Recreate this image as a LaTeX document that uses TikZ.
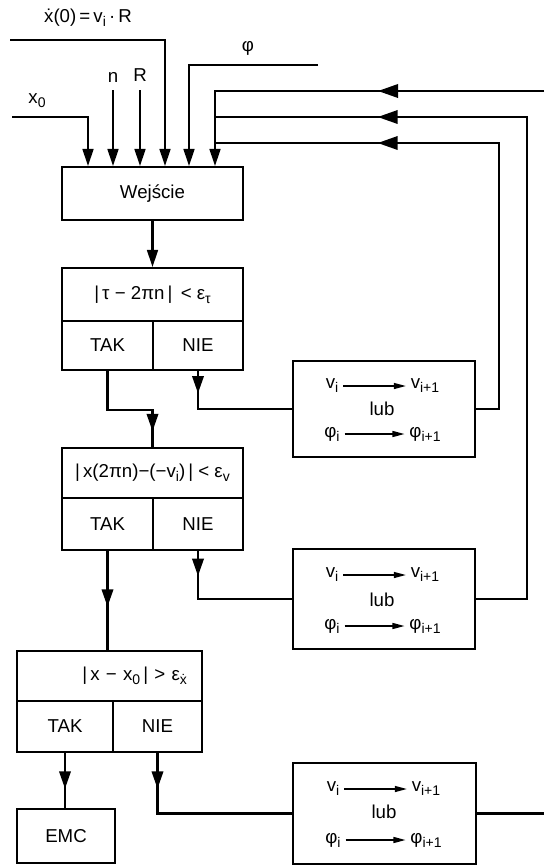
\documentclass[tikz,border=0pt]{standalone}
\usepackage{fontspec}
\setmainfont{Liberation Sans}
\usetikzlibrary{arrows.meta,decorations.markings}

\tikzset{every picture/.style={line width=0.75pt}}
\tikzset{
  blok/.style={draw,line width=1.1pt,inner sep=0pt,align=center},
  linia/.style={line width=1.8pt},
  grot/.style={-{Triangle[length=13pt,width=8pt]}},
  grotsr/.style={postaction={decorate},decoration={markings,mark=at position #1 with {\arrow{Triangle[length=13pt,width=8.5pt]}}}},
  grotzw/.style={postaction={decorate},decoration={markings,mark=at position #1 with {\arrow{Triangle[length=15pt,width=10pt]}}}},
  zamiana/.style={line width=1pt,-{Triangle[length=9pt,width=4.5pt]}}
}
\newcommand{\ind}[1]{\raisebox{-0.4ex}{\fontsize{10.5}{12}\selectfont #1}}

\begin{document}
\begin{tikzpicture}[x=0.75pt,y=0.75pt,yscale=-1,xscale=1,font=\fontsize{14}{16}\selectfont]
	\useasboundingbox (0,0) rectangle (544,865);

	%Shape: Rectangle
	\node [blok,minimum width=135.75pt,minimum height=39.75pt] (wej) at (152.5,193.5) {Wejście};
	%Shape: Rectangle
	\node [blok,minimum width=135.75pt,minimum height=39.75pt] (war1) at (152.5,294.5) {|\,τ − 2πn\,|\, < ε\ind{τ}};
	\node [blok,minimum width=68.25pt,minimum height=36.75pt] (tak1) at (107.5,345.5) {TAK};
	\node [blok,minimum width=67.5pt,minimum height=36.75pt] (nie1) at (198,345.5) {NIE};
	%Shape: Rectangle
	\node [blok,minimum width=135.75pt,minimum height=37.5pt] (war2) at (152.5,473) {|\,x(2πn)−(−v\ind{i})\,| < ε\ind{v}};
	\node [blok,minimum width=68.25pt,minimum height=39pt] (tak2) at (107.5,524) {TAK};
	\node [blok,minimum width=67.5pt,minimum height=39pt] (nie2) at (198,524) {NIE};
	%Shape: Rectangle
	\node [blok,minimum width=138.75pt,minimum height=37.5pt,text width=116pt,align=right] (war3) at (109.5,676) {|\,x − x\ind{0}\,| > ε\ind{\.{x}}};
	\node [blok,minimum width=72pt,minimum height=38.25pt] (tak3) at (65,726.5) {TAK};
	\node [blok,minimum width=66.75pt,minimum height=38.25pt] (nie3) at (157.5,726.5) {NIE};
	%Shape: Rectangle
	\node [blok,minimum width=73.5pt,minimum height=40.5pt] (emc) at (66,836) {EMC};

	%Shape: Rectangle
	\node [blok,minimum width=136.5pt,minimum height=72pt] (zm1) at (384,409) {};
	\node (v1) at (332,386) {v\ind{i}};
	\node (v1n) at (425,386) {v\ind{i+1}};
	\node (lub1) at (382,409) {lub};
	\node (f1) at (332,434) {φ\ind{i}};
	\node (f1n) at (425,434) {φ\ind{i+1}};
	\draw [zamiana] (v1) -- (v1n);
	\draw [zamiana] (f1) -- (f1n);
	%Shape: Rectangle
	\node [blok,minimum width=136.5pt,minimum height=75pt] (zm2) at (384,599) {};
	\node (v2) at (332,575) {v\ind{i}};
	\node (v2n) at (425,575) {v\ind{i+1}};
	\node (lub2) at (382,600) {lub};
	\node (f2) at (332,626) {φ\ind{i}};
	\node (f2n) at (425,626) {φ\ind{i+1}};
	\draw [zamiana] (v2) -- (v2n);
	\draw [zamiana] (f2) -- (f2n);
	%Shape: Rectangle
	\node [blok,minimum width=137.25pt,minimum height=75.75pt] (zm3) at (384.5,813.5) {};
	\node (v3) at (333,789) {v\ind{i}};
	\node (v3n) at (426,789) {v\ind{i+1}};
	\node (lub3) at (384,812) {lub};
	\node (f3) at (333,840) {φ\ind{i}};
	\node (f3n) at (426,840) {φ\ind{i+1}};
	\draw [zamiana] (v3) -- (v3n);
	\draw [zamiana] (f3) -- (f3n);

	%Straight Lines
	\coordinate (xds) at (10,40);
	\coordinate (xdk) at (165,40);
	\draw [linia,grot] (xds) -- (xdk) -- (xdk |- wej.north);
	%Straight Lines
	\coordinate (x0s) at (12,117);
	\coordinate (x0k) at (88,117);
	\draw [linia,grot] (x0s) -- (x0k) -- (x0k |- wej.north);
	%Straight Lines
	\coordinate (ns) at (113,90);
	\draw [linia,grot] (ns) -- (ns |- wej.north);
	%Straight Lines
	\coordinate (rs) at (140,90);
	\draw [linia,grot] (rs) -- (rs |- wej.north);
	%Straight Lines
	\coordinate (fis) at (318,65);
	\coordinate (fik) at (189,65);
	\draw [linia,grot] (fis) -- (fik) -- (fik |- wej.north);
	%Straight Lines
	\coordinate (fbs) at (544,91);
	\coordinate (fbk) at (215,91);
	\draw [linia,grot,grotzw=124.5pt] (fbs) -- (fbk) -- (fbk |- wej.north);
	%Straight Lines
	\coordinate (fb2) at (527,117);
	\draw [linia,grotzw=-122pt] (zm2.east) -| (fb2) -- (fb2 -| fbk);
	%Straight Lines
	\coordinate (fb3) at (499,143);
	\draw [linia,grotzw=-122pt] (zm1.east) -| (fb3) -- (fb3 -| fbk);
	%Straight Lines
	\draw [linia] (zm3.east) -- (zm3.east -| fbs);

	%Straight Lines
	\draw [linia,grot] (wej.south) -- (war1.north);
	\draw [linia,grotsr=-12pt] (tak1.south) -- ++(0,39) -| (war2.north);
	\draw [linia,grotsr=17pt] (nie1.south) |- (zm1.west);
	\draw [linia,grotsr=42pt] (tak2.south) -- (tak2.south |- war3.north);
	\draw [linia,grotsr=19pt] (nie2.south) |- (zm2.west);
	\draw [linia,grotsr=27pt] (tak3.south) -- (tak3.south |- emc.north);
	\draw [linia,grotsr=27pt] (nie3.south) |- (zm3.west);

	% Text Node
	\node (lxd) at (88,18) {\.{x}(0)\,=\,v\ind{i}\,·\,R};
	% Text Node
	\node (lx0) at (37,101) {x\ind{0}};
	% Text Node
	\node (ln) at (113,77) {n};
	% Text Node
	\node (lr) at (140,75) {R};
	% Text Node
	\node (lfi) at (248,48) {φ};

\end{tikzpicture}
\end{document}
